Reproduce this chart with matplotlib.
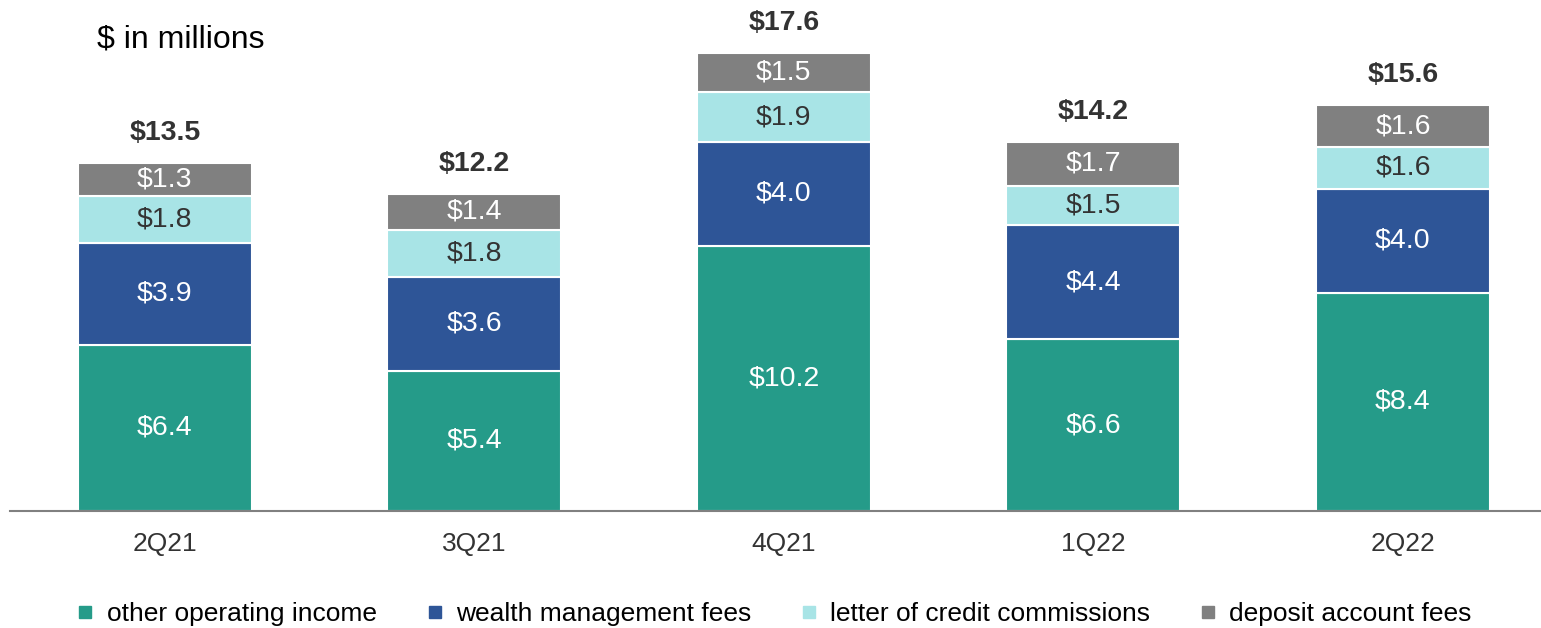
import matplotlib.pyplot as plt
import numpy as np

plt.rcParams['font.family'] = ['Liberation Sans', 'DejaVu Sans']

quarters = ['2Q21', '3Q21', '4Q21', '1Q22', '2Q22']
other_income = [6.4, 5.4, 10.2, 6.6, 8.4]
wealth_fees = [3.9, 3.6, 4.0, 4.4, 4.0]
credit_comm = [1.8, 1.8, 1.9, 1.5, 1.6]
deposit_fees = [1.3, 1.4, 1.5, 1.7, 1.6]
totals = [13.5, 12.2, 17.6, 14.2, 15.6]

series = [
    ('other operating income', other_income, '#259B89', 'white'),
    ('wealth management fees', wealth_fees, '#2E5597', 'white'),
    ('letter of credit commissions', credit_comm, '#A8E4E6', '#333333'),
    ('deposit account fees', deposit_fees, '#808080', 'white'),
]

fig = plt.figure(figsize=(15.41, 6.28), dpi=100)
ax = fig.add_axes([10 / 1541, 117 / 628, 1531 / 1541, 511 / 628])

x = np.arange(len(quarters))
width = 0.562
bottom = np.zeros(len(quarters))
handles = []
for name, vals, color, tcolor in series:
    vals = np.array(vals)
    ax.bar(x, vals, width, bottom=bottom, color=color,
           edgecolor='white', linewidth=1.5)
    for xi, b, v in zip(x, bottom, vals):
        ax.text(xi, b + v / 2, f'${v:.1f}', ha='center', va='center',
                color=tcolor, fontsize=20.5)
    handles.append(plt.Line2D([], [], marker='s', linestyle='', color=color,
                              markersize=8, label=name))
    bottom += vals

# totals above each stack
for xi, top, t in zip(x, bottom, totals):
    ax.text(xi, top + 1.15, f'${t:.1f}', ha='center', va='center',
            color='#333333', fontsize=20.5, fontweight='bold')

ax.set_xlim(-0.50, 4.446)
ax.set_ylim(0, 19.65)
ax.set_xticks(x)
ax.set_xticklabels(quarters, fontsize=19, color='#333333')
ax.tick_params(axis='x', length=0, pad=15)
ax.set_yticks([])
for s in ['top', 'right', 'left']:
    ax.spines[s].set_visible(False)
ax.spines['bottom'].set_color('#808080')
ax.spines['bottom'].set_linewidth(1.5)

fig.text(97 / 1541, 1 - 40 / 628, '$ in millions', fontsize=23,
         ha='left', va='center', color='black')
fig.text(97 / 1541, 1 + 9 / 628, 'Non-interest Income', fontsize=23,
         ha='left', va='center', color='#333333')

fig.legend(handles=handles, loc='center', bbox_to_anchor=(772 / 1541, 14 / 628),
           ncol=4, frameon=False, fontsize=19, handletextpad=0.3,
           columnspacing=1.7, handlelength=1.0)

fig.savefig('out.png', dpi=100)
